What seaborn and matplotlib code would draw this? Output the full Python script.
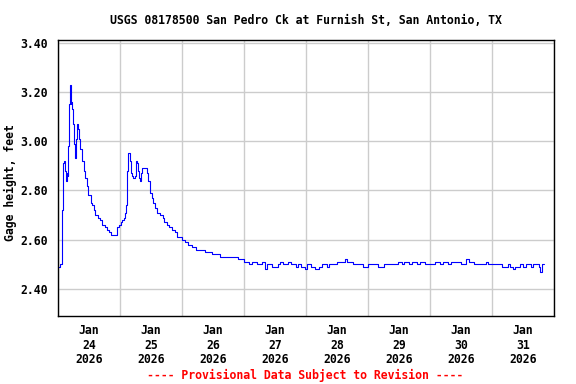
import numpy as np
import pandas as pd
import matplotlib
matplotlib.use("Agg")
import matplotlib.pyplot as plt
import matplotlib.dates as mdates
import matplotlib.ticker as mticker
import seaborn as sns

# ---- data (hours after 2026-01-24 00:00, gage height in feet) ----
hours = [0, 0.8, 1.4, 1.5, 1.7, 2.0, 2.3, 2.7, 3.2, 3.5, 3.9, 4.0, 4.3, 4.8, 4.9,
         5.1, 5.4, 5.7, 6.1, 6.3, 6.6, 6.8, 7.0, 7.2, 7.5, 7.7, 8.1, 8.7, 9.3, 9.9,
         10.6, 11.2, 11.6, 12.6, 13.2, 13.9, 14.5, 15.5, 16.3, 17.0, 18.0, 19.0,
         19.7, 20.5, 21.3, 22.6, 23.0, 23.6, 24.4, 24.8, 25.6, 25.9, 26.3, 26.6,
         26.9, 27.2, 27.7, 28.0, 28.3, 28.6, 29.2, 29.8, 30.2, 30.6, 31.0, 31.4,
         31.7, 32.1, 32.7, 33.7, 34.5, 35.0, 35.6, 36.2, 36.8, 37.7, 38.3, 39.3,
         40.5, 41.0, 42.0, 43.0, 44.1, 45.1, 46.1, 48.0, 49.2, 50.3, 51.9, 53.4,
         55.0, 56.9, 59.6, 62.7, 66.6, 69.7,
         72, 74, 75, 77, 79, 80, 81, 83, 85, 86, 87, 89, 90, 92, 93, 94, 95.6,
         96.5, 98, 99.5, 101, 102, 104, 105, 107, 108, 110, 111, 112, 113, 114,
         116, 118, 120, 122, 124, 126, 128, 130, 131.6, 133, 134, 136, 137, 139,
         140, 142, 144, 146, 148, 149, 151, 152, 154, 156, 158, 159, 161, 163,
         165.7, 166.5, 168, 170, 172, 174, 175, 176, 177, 179, 180, 181, 183,
         184, 186, 186.6, 187.2, 188.2]
gage_ft = [2.49, 2.50, 2.50, 2.56, 2.72, 2.91, 2.92, 2.88, 2.84, 2.87, 2.86, 2.98,
           3.15, 3.23, 3.15, 3.16, 3.13, 3.07, 3.05, 2.99, 2.93, 2.97, 3.01, 3.06,
           3.07, 3.05, 3.01, 2.97, 2.92, 2.88, 2.85, 2.82, 2.78, 2.75, 2.74, 2.72,
           2.70, 2.69, 2.68, 2.66, 2.65, 2.64, 2.63, 2.62, 2.62, 2.62, 2.65, 2.66,
           2.67, 2.68, 2.69, 2.71, 2.74, 2.81, 2.88, 2.95, 2.94, 2.92, 2.87, 2.86,
           2.85, 2.86, 2.92, 2.91, 2.88, 2.85, 2.84, 2.87, 2.89, 2.89, 2.87, 2.84,
           2.79, 2.77, 2.75, 2.73, 2.71, 2.70, 2.69, 2.67, 2.66, 2.65, 2.64, 2.63,
           2.61, 2.60, 2.59, 2.58, 2.57, 2.56, 2.56, 2.55, 2.54, 2.53, 2.53, 2.52,
           2.51, 2.50, 2.51, 2.50, 2.51, 2.48, 2.50, 2.49, 2.50, 2.51, 2.50, 2.51,
           2.50, 2.49, 2.50, 2.49, 2.48, 2.50, 2.49, 2.48, 2.49, 2.50, 2.49, 2.50,
           2.50, 2.51, 2.51, 2.52, 2.51, 2.51, 2.50, 2.50, 2.49, 2.50, 2.50, 2.49,
           2.50, 2.50, 2.50, 2.51, 2.50, 2.51, 2.50, 2.51, 2.50, 2.51, 2.50, 2.50,
           2.51, 2.50, 2.51, 2.50, 2.51, 2.51, 2.50, 2.52, 2.51, 2.50, 2.50, 2.51,
           2.50, 2.50, 2.50, 2.49, 2.50, 2.49, 2.48, 2.49, 2.50, 2.49, 2.50, 2.49,
           2.50, 2.49, 2.47, 2.50, 2.50]

y_ticks = [2.40, 2.60, 2.80, 3.00, 3.20, 3.40]
title = "USGS 08178500 San Pedro Ck at Furnish St, San Antonio, TX"
ylabel = "Gage height, feet"
footer = "---- Provisional Data Subject to Revision ----"

start = pd.Timestamp("2026-01-24 00:00")
df = pd.DataFrame({
    "time": start + pd.to_timedelta(hours, unit="h"),
    "gage": gage_ft,
})

sns.set_theme(style="white")
plt.rcParams["font.family"] = ["DejaVu Sans Mono"]
plt.rcParams["font.weight"] = "bold"
plt.rcParams["text.color"] = "black"
plt.rcParams["axes.labelcolor"] = "black"
plt.rcParams["xtick.color"] = "black"
plt.rcParams["ytick.color"] = "black"

fig = plt.figure(figsize=(5.76, 3.84), dpi=100)
ax = fig.add_axes([58 / 576, 1 - 316 / 384, (554 - 58) / 576, (316 - 39.5) / 384])

sns.lineplot(data=df, x="time", y="gage", ax=ax, color="#0000ff", linewidth=0.8,
             drawstyle="steps-post", estimator=None)

ax.set_xlim(start, start + pd.Timedelta(days=8))
ax.set_ylim(2.29, 3.413)

ax.xaxis.set_major_locator(mdates.DayLocator())
ax.xaxis.set_major_formatter(mticker.NullFormatter())
ax.xaxis.set_minor_locator(mdates.HourLocator(byhour=12))
ax.xaxis.set_minor_formatter(mdates.DateFormatter("%b\n%d\n%Y"))
ax.set_yticks(y_ticks)
ax.yaxis.set_major_formatter(mticker.FormatStrFormatter("%.2f"))

ax.grid(True, which="major", color="#cccccc", linewidth=1.0)
ax.set_axisbelow(True)
ax.tick_params(axis="both", which="both", length=0, labelsize=8.3, colors="black")
ax.tick_params(axis="x", which="minor", pad=6)
ax.tick_params(axis="y", pad=7)
for lbl in ax.xaxis.get_minorticklabels():
    lbl.set_linespacing(1.15)
    lbl.set_fontweight("bold")
for lbl in ax.get_yticklabels():
    lbl.set_fontweight("bold")

for s in ax.spines.values():
    s.set_color("black")
    s.set_linewidth(1.0)

ax.set_xlabel("")
ax.set_ylabel(ylabel, fontsize=8.3, fontweight="bold", color="black")
ax.yaxis.set_label_coords((17 - 58) / 496, (316 - 183) / 276.5)

fig.text(306 / 576, 1 - 20 / 384, title, ha="center", va="center",
         fontsize=8.3, fontweight="bold", color="black")
fig.text(305 / 576, 1 - 375 / 384, footer, ha="center",
         va="center", fontsize=8.3, fontweight="bold", color="#ff0000")

fig.savefig("out.png", dpi=100)
